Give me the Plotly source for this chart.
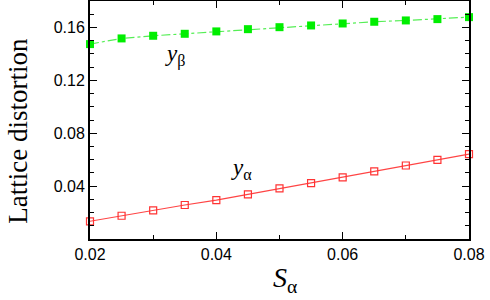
import plotly.graph_objects as go

s_alpha = [0.02, 0.025, 0.03, 0.035, 0.04, 0.045, 0.05, 0.055, 0.06, 0.065, 0.07, 0.075, 0.08]
y_alpha = [0.0134, 0.0176, 0.0217, 0.0257, 0.0294, 0.0337, 0.0383, 0.0423, 0.0466, 0.0511, 0.0556, 0.0598, 0.0642]
y_beta = [0.1474, 0.1517, 0.1537, 0.1552, 0.1570, 0.1587, 0.1602, 0.1615, 0.1630, 0.1643, 0.1653, 0.1663, 0.1678]
x_ticks = [0.02, 0.04, 0.06, 0.08]
x_labels = ["0.02", "0.04", "0.06", "0.08"]
y_ticks = [0.04, 0.08, 0.12, 0.16]
y_labels = ["0.04", "0.08", "0.12", "0.16"]

fig = go.Figure()
fig.add_trace(go.Scatter(
    x=s_alpha, y=y_beta, mode="lines+markers",
    line=dict(color="#55ee55", width=1.2, dash="dashdot"),
    marker=dict(symbol="square", size=8, color="#00ee00", line=dict(width=0)),
    showlegend=False, cliponaxis=False))
fig.add_trace(go.Scatter(
    x=s_alpha, y=y_alpha, mode="lines+markers",
    line=dict(color="#ff4444", width=1.2),
    marker=dict(symbol="square-open", size=7, color="#ff3333", line=dict(width=1.2)),
    showlegend=False, cliponaxis=False))

axis_common = dict(showline=True, linecolor="black", linewidth=2, mirror="ticks",
                   ticks="inside", ticklen=7, tickwidth=1.2, tickcolor="black",
                   showgrid=False, zeroline=False, automargin=False,
                   tickfont=dict(family="Liberation Sans", size=16, color="black"))

fig.update_xaxes(range=[0.02, 0.08], tickvals=x_ticks, ticktext=x_labels,
                 minor=dict(dtick=0.01, tick0=0.0, ticks="inside", ticklen=4, tickcolor="black", showgrid=False),
                 **axis_common)
fig.update_yaxes(range=[0, 0.18], tickvals=y_ticks, ticktext=y_labels,
                 minor=dict(dtick=0.01, tick0=0.0, ticks="inside", ticklen=4, tickcolor="black", showgrid=False),
                 **axis_common)

fig.add_annotation(x=0.0335, y=0.139, text="<i>y</i><sub>β</sub>", showarrow=False,
                   font=dict(family="Liberation Serif", size=23, color="black"))
fig.add_annotation(x=0.0440, y=0.0530, text="<i>y</i><sub>α</sub>", showarrow=False,
                   font=dict(family="Liberation Serif", size=23, color="black"))
fig.add_annotation(xref="paper", yref="paper", x=0.515, y=-0.17, yanchor="middle",
                   text="<i>S</i><sub>α</sub>", showarrow=False,
                   font=dict(family="Liberation Serif", size=28, color="black"))
fig.add_annotation(xref="paper", yref="paper", x=-0.19, y=0.455, xanchor="center", yanchor="middle",
                   text="Lattice distortion", textangle=-90, showarrow=False,
                   font=dict(family="Liberation Serif", size=27, color="black"))

fig.update_layout(width=490, height=300, margin=dict(l=90, r=21, t=1, b=61, autoexpand=False),
                  plot_bgcolor="white", paper_bgcolor="white")
fig.write_html("out.html", config={"displayModeBar": False},
               post_script="document.body.style.margin='0';document.body.style.overflow='hidden';")
